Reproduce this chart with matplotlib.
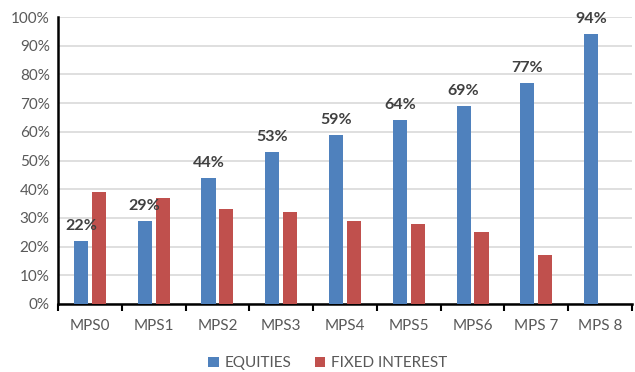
import numpy as np
from matplotlib import pyplot as plt
from matplotlib.ticker import PercentFormatter

plt.rcParams['font.family'] = ['Lato', 'DejaVu Sans']

categories = ['MPS0', 'MPS1', 'MPS2', 'MPS3', 'MPS4', 'MPS5', 'MPS6', 'MPS 7', 'MPS 8']
equities = [22, 29, 44, 53, 59, 64, 69, 77, 94]
fixed_interest = [39, 37, 33, 32, 29, 28, 25, 17, 0]

blue = '#4f81bd'
red = '#c0504d'

fig = plt.figure(figsize=(6.35, 3.72), dpi=100)
ax = fig.add_axes([0.0913, 0.183, 0.904, 0.771])

x = np.arange(len(categories))
w = 0.22
gap = 0.03
ax.bar(x - w / 2 - gap, equities, w, color=blue, label='EQUITIES', zorder=3)
ax.bar(x + w / 2 + gap, fixed_interest, w, color=red, label='FIXED INTEREST', zorder=3)

for xi, v in zip(x, equities):
    ax.text(xi - w / 2 - gap, v + 2.8, f'{v}%', ha='center', va='bottom',
            fontsize=11.5, fontweight='bold', color='#404040', zorder=4)

ax.set_xlim(-0.5, len(categories) - 0.5)
ax.set_ylim(0, 100)
ax.set_yticks(np.arange(0, 101, 10))
ax.yaxis.set_major_formatter(PercentFormatter(decimals=0))
ax.grid(axis='y', color='#d9d9d9', linewidth=1.2, zorder=0)

ax.set_xticks(x)
ax.set_xticklabels(categories)
ax.set_xticks(np.arange(-0.5, len(categories)), minor=True)
ax.tick_params(axis='x', which='major', length=0, pad=11, labelsize=11, labelcolor='#595959')
ax.tick_params(axis='x', which='minor', length=5, width=1.5, color='black', direction='out')
ax.tick_params(axis='y', length=0, labelsize=11, labelcolor='#595959', pad=6)

for s in ['top', 'right']:
    ax.spines[s].set_visible(False)
ax.spines['left'].set_linewidth(1.8)
ax.spines['bottom'].set_linewidth(1.8)

ax.legend(loc='upper center', bbox_to_anchor=(0.47, -0.135), ncol=2, frameon=False,
          fontsize=11, labelcolor='#595959', handlelength=0.7, handleheight=0.7,
          columnspacing=1.5, handletextpad=0.4)

fig.savefig('out.png', dpi=100)
